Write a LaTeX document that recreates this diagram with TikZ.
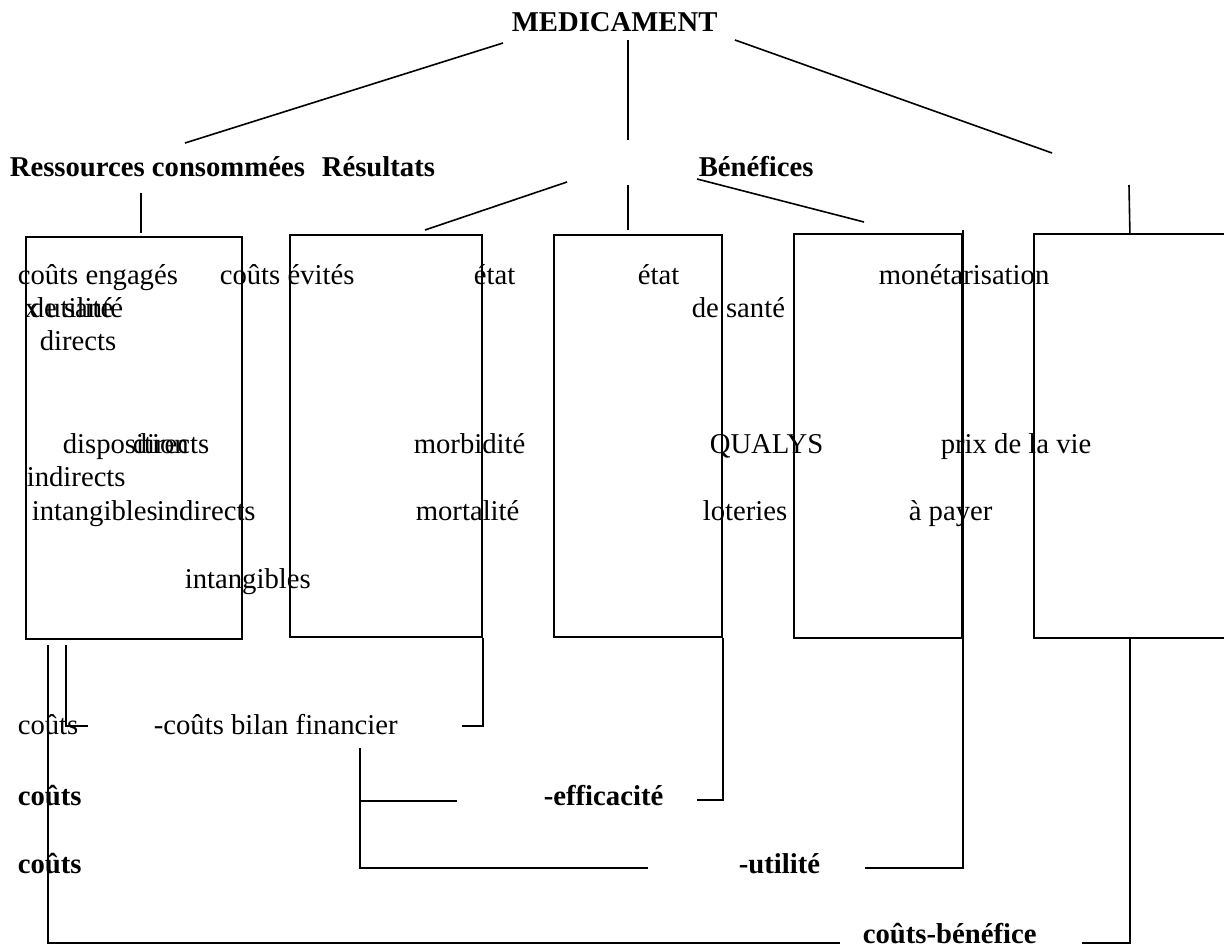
\documentclass[tikz,border=0pt]{standalone}
\usepackage{fontspec}
\setmainfont{Liberation Serif}
\usetikzlibrary{positioning}
\newcommand{\diagfont}{\fontsize{28.7pt}{34pt}\selectfont}

\begin{document}
\begin{tikzpicture}[
            x=1pt, y=-1pt,
            font=\diagfont,
            line width=1.6pt,
            lbl/.style={anchor=base west, inner sep=0pt, font=\diagfont},
            hdr/.style={lbl, font=\diagfont\bfseries},
            colbox/.style={draw, line width=1.8pt, inner sep=0pt,
            anchor=north west, minimum height=402pt},
            link/.style={line width=1.6pt}
        ]
            \useasboundingbox (0,0) rectangle (1224,947);

% Head and branches
            \node[hdr] (med)  at (511,32)  {MEDICAMENT};
            \node[hdr] (res)  at (9,177)   {Ressources consommées};
            \node[hdr] (resu) at (321,177) {Résultats};
            \node[hdr] (ben)  at (698,177) {Bénéfices};

% Columns
            \node[colbox, minimum width=216pt] (b1) at (25,236)  {};
            \node[colbox, minimum width=192pt] (b2) at (289,234) {};
            \node[colbox, minimum width=168pt] (b3) at (553,234) {};
            \node[colbox, minimum width=168pt, minimum height=404pt] (b4) at (793,233) {};
            \node[colbox, minimum width=192pt, minimum height=404pt] (b5) at (1033,233) {};

% Free ends of the tree strokes
            \coordinate (mL) at (503,43);   \coordinate (rL) at (185,143);
            \coordinate (mC) at (628,40);   \coordinate (rC) at (628,140);
            \coordinate (mR) at (735,40);   \coordinate (rR) at (1052,153);
            \coordinate (rsA) at (141,193); \coordinate (rsB) at (141,233);
            \coordinate (sA) at (567,182);  \coordinate (sB) at (425,230);
            \coordinate (sC) at (628,185);  \coordinate (sD) at (628,230);
            \coordinate (bA) at (697,179);  \coordinate (bB) at (864,222);
            \coordinate (bC) at (1129,185);

            \draw[link] (mL) -- (rL);
            \draw[link] (mC) -- (rC);
            \draw[link] (mR) -- (rR);
            \draw[link] (rsA) -- (rsB);
            \draw[link] (sA) -- (sB);
            \draw[link] (sC) -- (sD);
            \draw[link] (bA) -- (bB);
            \draw[link] (bC) -- (b5.north);

% Column texts
            \node[lbl] (ce)  at (17,284)  {coûts engagés};
            \node[lbl] (cev) at (219,284) {coûts évités};
            \node[lbl] (et1) at (473,284) {état};
            \node[lbl] (et2) at (637,284) {état};
            \node[lbl] (mon) at (878,284) {monétarisation};

            \node[lbl] (xu)  at (24,317)  {x utilité};
            \node[lbl] (ds1) at (29,317)  {de santé};
            \node[lbl] (ds2) at (691,317) {de santé};

            \node[lbl] (dir1) at (39,350) {directs};

            \node[lbl] (disp) at (62,453)  {disposition};
            \node[lbl] (dir2) at (132,453) {directs};
            \node[lbl] (morb) at (413,453) {morbidité};
            \node[lbl] (qal)  at (709,453) {QUALYS};
            \node[lbl] (prix) at (940,453) {prix de la vie};

            \node[lbl] (ind1) at (26,486) {indirects};

            \node[lbl] (int1) at (31,520)  {intangibles};
            \node[lbl] (ind2) at (156,520) {indirects};
            \node[lbl] (mort) at (415,520) {mortalité};
            \node[lbl] (lot)  at (702,520) {loteries};
            \node[lbl] (pay)  at (908,520) {à payer};

            \node[lbl] (int2) at (184,588) {intangibles};

% Ratios
            \node[lbl] (c1)   at (17,734)  {coûts};
            \node[lbl] (bil)  at (153,734) {-coûts bilan financier};
            \node[hdr] (c2)   at (17,805)  {coûts};
            \node[hdr] (eff)  at (543,805) {-efficacité};
            \node[hdr] (c3)   at (17,873)  {coûts};
            \node[hdr] (uti)  at (738,873) {-utilité};
            \node[hdr] (cb)   at (862,943) {coûts-bénéfice};

            \coordinate (kA) at (88,726);
            \coordinate (kB) at (462,726);
            \coordinate (kC) at (360,748);
            \coordinate (kD) at (648,868);
            \coordinate (kE) at (457,801);
            \coordinate (kF) at (697,800);
            \coordinate (kG) at (865,868);
            \coordinate (kH) at (840,943);
            \coordinate (kI) at (1082,943);

            \draw[link] ([xshift=23pt,yshift=-5pt]b1.south west) |- (kH);
            \draw[link] ([xshift=41pt,yshift=-5pt]b1.south west) |- (kA);
            \draw[link] (b2.south east) |- (kB);
            \draw[link] (kC) |- (kD);
            \draw[link] (kC |- kE) -- (kE);
            \draw[link] (b3.south east) |- (kF);
            \draw[link] ([yshift=3pt]b4.north east) -- (b4.south east) |- (kG);
            \draw[link] (b5.south) |- (kI);
        \end{tikzpicture}
\end{document}
